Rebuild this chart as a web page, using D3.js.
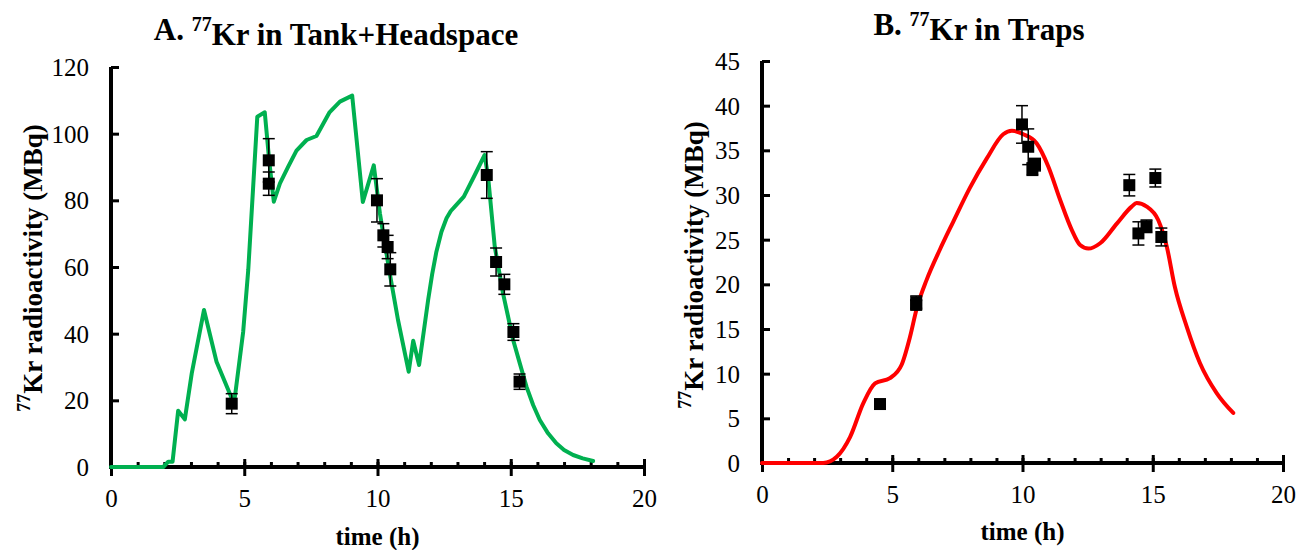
<!DOCTYPE html>
<html>
<head>
<meta charset="utf-8">
<script src="https://cdn.jsdelivr.net/npm/d3@7"></script>
<style>
  body { margin: 0; background: #fff; }
  svg text { font-family: "Liberation Serif", "Times New Roman", serif; fill: #000; }
  .tick text { font-size: 25px; }
  .title, .aLabel { font-weight: bold; }
</style>
</head>
<body>
<div id="chart"></div>
<script>
// sampling times shared by both panels (h)
var sampleTime = [4.53, 5.92, 5.92, 9.98, 10.22, 10.38, 10.48, 14.1, 14.45, 14.76, 15.1, 15.33];

// panel A: tank + headspace measurements (MBq) and errors
var tankMeasured = [19, 92, 85, 80, 69.5, 66, 59.3, 87.6, 61.5, 54.8, 40.5, 25.6];
var tankError = [3, 6.5, 3.5, 6.5, 3.5, 3.5, 5, 7, 4.2, 3, 2.5, 2.3];

// panel A: model curve
var tankTime = [0, 1.96, 2.15, 2.31, 2.52, 2.77, 3.03, 3.49, 3.96, 4.53, 4.65, 4.96, 5.15, 5.49, 5.77,
  5.94, 6.11, 6.34, 6.65, 6.96, 7.34, 7.71, 8.19, 8.59, 9.05, 9.45, 9.86, 10.09, 10.46, 10.77,
  11.17, 11.34, 11.56, 11.75, 11.9, 12.05, 12.21, 12.4, 12.59, 12.75, 12.9, 13.24, 13.65, 14.02,
  14.15, 14.4, 14.71, 15.09, 15.34, 15.59, 15.84, 16.09, 16.4, 16.71, 17.0, 17.34, 17.7, 18.09];
var tankActivity = [0, 0, 1.6, 1.6, 16.9, 14.3, 28.1, 47.1, 31.6, 20.6, 21.1, 40.6, 59.1, 105.1, 106.4,
  91.6, 79.6, 85.1, 90.1, 94.9, 98.1, 99.3, 106.3, 109.6, 111.4, 79.5, 90.5, 76.1, 58.1, 44.1,
  28.6, 37.9, 30.6, 41.5, 50.1, 57.8, 64.6, 70.6, 74.6, 76.8, 78.1, 81.1, 87.6, 93.6,
  87.1, 66.1, 52.1, 38.1, 31.1, 24.1, 18.6, 14.1, 10.1, 7.1, 5.1, 3.6, 2.6, 1.8];

// panel B: trap measurements (MBq) and errors
var trapMeasured = [6.6, 18.0, 17.7, 37.9, 35.4, 32.9, 33.4, 31.1, 25.7, 26.5, 31.9, 25.3];
var trapError = [0.3, 0.7, 0.5, 2.1, 2.0, 0.7, 0.7, 1.2, 1.3, 0.7, 1.0, 1.0];

// panel B: model curve
var trapTime = [0, 2.35, 2.87, 3.38, 3.89, 4.34, 4.91, 5.36, 5.68, 5.94, 6.32, 6.83, 7.34, 7.98, 8.63,
  9.26, 9.59, 10.03, 10.54, 10.99, 11.44, 11.89, 12.21, 12.53, 12.98, 13.62, 14.19, 14.38, 14.77,
  15.21, 15.54, 15.85, 16.3, 16.81, 17.46, 18.09];
var trapActivity = [0, 0, 0.7, 2.9, 6.7, 8.9, 9.5, 11, 14.1, 17.3, 20.5, 23.9, 27, 30.8, 34.1,
  36.8, 37.2, 36.8, 35.8, 33.2, 29.5, 26.1, 24.4, 24, 24.6, 26.8, 28.7, 29.1, 28.7,
  27.2, 24.2, 19.7, 15.3, 11.2, 7.8, 5.6];

var xTicks = [0, 5, 10, 15, 20];
var tankTicks = [0, 20, 40, 60, 80, 100, 120];
var trapTicks = [0, 5, 10, 15, 20, 25, 30, 35, 40, 45];

var svg = d3.select("#chart").append("svg")
  .attr("width", 1296)
  .attr("height", 550);

svg.append("rect").attr("width", 1296).attr("height", 550).attr("fill", "#fff");

function drawPanel(p) {
  var x = d3.scaleLinear().domain([0, 20]).range([p.left, p.right]);
  var y = d3.scaleLinear().domain([0, p.yMax]).range([p.bottom, p.top]);

  var g = svg.append("g");

  // title with superscript mass number
  var title = g.append("text")
    .attr("class", "title")
    .attr("x", p.titleX)
    .attr("y", p.titleY)
    .attr("text-anchor", "middle")
    .style("font-size", "31px");
  title.append("tspan").text(p.letter + " ");
  title.append("tspan").attr("dy", "-0.45em").style("font-size", "20px").text("77");
  title.append("tspan").attr("dy", "0.45em").text("Kr in " + p.where);

  // y axis, ticks pointing inside
  var yAxis = g.append("g")
    .attr("transform", "translate(" + p.left + ",0)")
    .call(d3.axisLeft(y).tickValues(p.yTicks).tickSizeInner(-8).tickSizeOuter(0).tickPadding(22));
  yAxis.select(".domain").attr("stroke-width", 4).attr("d", "M0," + (p.bottom + 2) + "V" + p.top);
  yAxis.selectAll(".tick line").attr("stroke-width", 3);
  yAxis.selectAll(".tick text").attr("dy", "0.34em");

  // x axis minor ticks
  var xMinor = g.append("g")
    .attr("transform", "translate(0," + p.bottom + ")")
    .call(d3.axisBottom(x).ticks(20).tickSize(-5).tickFormat(""));
  xMinor.select(".domain").remove();
  xMinor.selectAll(".tick line").attr("stroke-width", 3);

  // x axis major ticks crossing the line
  var xAxis = g.append("g")
    .attr("transform", "translate(0," + p.bottom + ")")
    .call(d3.axisBottom(x).tickValues(xTicks).tickSizeInner(8).tickSizeOuter(0).tickPadding(14));
  xAxis.select(".domain").attr("stroke-width", 4).attr("d", "M" + p.left + ",0H" + p.right);
  xAxis.selectAll(".tick line").attr("y1", -8).attr("y2", 9).attr("stroke-width", 3);

  // axis labels
  g.append("text")
    .attr("class", "aLabel")
    .attr("x", (p.left + p.right) / 2)
    .attr("y", p.xLabelY)
    .attr("text-anchor", "middle")
    .style("font-size", "25px")
    .text("time (h)");

  var yl = g.append("text")
    .attr("class", "aLabel")
    .attr("transform", "translate(" + p.yLabelX + "," + p.yLabelY + ") rotate(-90)")
    .attr("text-anchor", "middle")
    .style("font-size", "27px");
  yl.append("tspan").attr("dy", "-0.45em").style("font-size", "18px").text("77");
  yl.append("tspan").attr("dy", "0.45em").text("Kr radioactivity (MBq)");

  // model curve
  var line = d3.line()
    .x(function (d) { return x(d[0]); })
    .y(function (d) { return y(d[1]); })
    .curve(p.curve);

  g.append("path")
    .datum(d3.zip(p.curveT, p.curveV))
    .attr("fill", "none")
    .attr("stroke", p.color)
    .attr("stroke-width", 4)
    .attr("stroke-linejoin", "round")
    .attr("stroke-linecap", "round")
    .attr("d", line);

  // measurements with error bars
  var pts = d3.zip(sampleTime, p.measured, p.err);

  var bars = g.selectAll(".err")
    .data(pts)
    .enter()
    .append("g")
    .attr("stroke", "#000")
    .attr("stroke-width", 1.5);
  bars.append("line")
    .attr("x1", function (d) { return x(d[0]); })
    .attr("x2", function (d) { return x(d[0]); })
    .attr("y1", function (d) { return y(d[1] - d[2]); })
    .attr("y2", function (d) { return y(d[1] + d[2]); });
  bars.append("line")
    .attr("x1", function (d) { return x(d[0]) - 6; })
    .attr("x2", function (d) { return x(d[0]) + 6; })
    .attr("y1", function (d) { return y(d[1] + d[2]); })
    .attr("y2", function (d) { return y(d[1] + d[2]); });
  bars.append("line")
    .attr("x1", function (d) { return x(d[0]) - 6; })
    .attr("x2", function (d) { return x(d[0]) + 6; })
    .attr("y1", function (d) { return y(d[1] - d[2]); })
    .attr("y2", function (d) { return y(d[1] - d[2]); });

  g.selectAll(".pt")
    .data(pts)
    .enter()
    .append("rect")
    .attr("x", function (d) { return x(d[0]) - 6; })
    .attr("y", function (d) { return y(d[1]) - 6; })
    .attr("width", 12)
    .attr("height", 12)
    .attr("fill", "#000");
}

drawPanel({
  letter: "A.", where: "Tank+Headspace",
  left: 111, right: 644, top: 67, bottom: 467, yMax: 120, yTicks: tankTicks,
  titleX: 336, titleY: 40, xLabelY: 545, yLabelX: 38, yLabelY: 268,
  curveT: tankTime, curveV: tankActivity, curve: d3.curveLinear, color: "#00B050",
  measured: tankMeasured, err: tankError
});

drawPanel({
  letter: "B.", where: "Traps",
  left: 762, right: 1283, top: 61, bottom: 463, yMax: 45, yTicks: trapTicks,
  titleX: 979, titleY: 35, xLabelY: 540, yLabelX: 699, yLabelY: 265,
  curveT: trapTime, curveV: trapActivity, curve: d3.curveMonotoneX, color: "#FF0000",
  measured: trapMeasured, err: trapError
});
</script>
</body>
</html>
